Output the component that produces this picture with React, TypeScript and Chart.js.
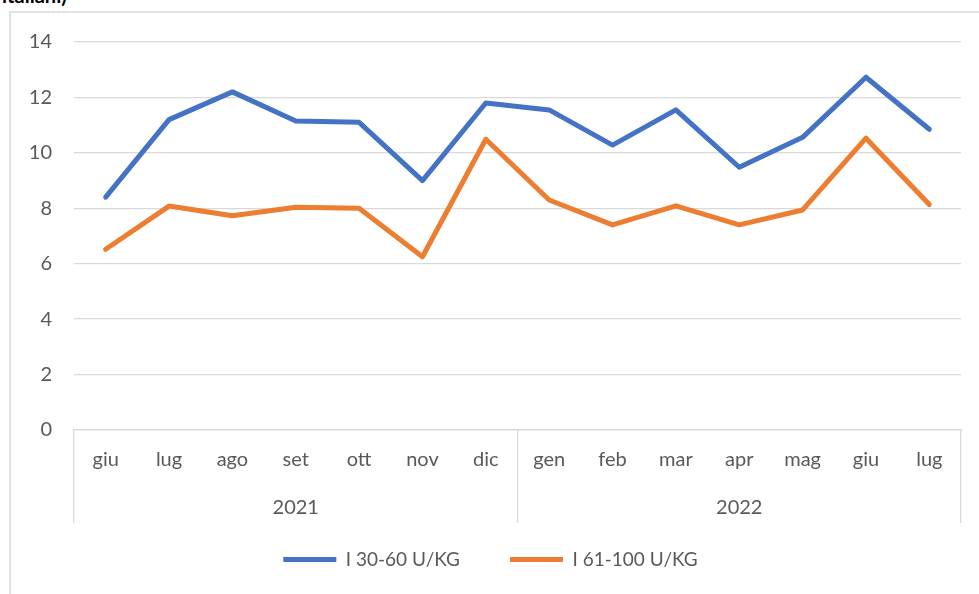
import React, { useEffect, useRef } from 'react';
import { Chart, registerables } from 'chart.js';

Chart.register(...registerables);

const months = ['giu', 'lug', 'ago', 'set', 'ott', 'nov', 'dic', 'gen', 'feb', 'mar', 'apr', 'mag', 'giu', 'lug'];
const years = ['2021', '2022'];
const yearSpans = [7, 7];
const series1Name = 'I 30-60 U/KG';
const series2Name = 'I 61-100 U/KG';
const series1 = [8.4, 11.2, 12.2, 11.15, 11.1, 9.0, 11.8, 11.55, 10.28, 11.55, 9.48, 10.56, 12.73, 10.85];
const series2 = [6.52, 8.08, 7.73, 8.04, 8.0, 6.25, 10.49, 8.3, 7.4, 8.09, 7.4, 7.94, 10.53, 8.14];
const yMin = 0;
const yMax = 14;
const yStep = 2;

const FONT = 'Lato, "Open Sans", sans-serif';
const TEXT = '#595959';
const GRID = '#d9d9d9';

export default function App() {
  const ref = useRef<HTMLCanvasElement | null>(null);

  useEffect(() => {
    document.body.style.margin = '0';
    const canvas = ref.current;
    if (!canvas) return;

    // two-level labels: month + year under the middle month of its group
    const yearAt: string[] = months.map(() => '');
    const boundaries = new Set<number>([0]);
    let start = 0;
    yearSpans.forEach((span, i) => {
      yearAt[start + Math.floor(span / 2)] = years[i];
      start += span;
      boundaries.add(start);
    });
    const labels = months.map((m, i) => [m, yearAt[i]]);

    const chart = new Chart(canvas, {
      type: 'line',
      data: {
        labels,
        datasets: [
          {
            label: series1Name,
            data: series1,
            borderColor: '#4472C4',
            backgroundColor: '#4472C4',
            borderWidth: 5,
            pointRadius: 0,
            tension: 0,
            borderCapStyle: 'round',
            borderJoinStyle: 'round',
          },
          {
            label: series2Name,
            data: series2,
            borderColor: '#ED7D31',
            backgroundColor: '#ED7D31',
            borderWidth: 5,
            pointRadius: 0,
            tension: 0,
            borderCapStyle: 'round',
            borderJoinStyle: 'round',
          },
        ],
      },
      options: {
        animation: false,
        responsive: false,
        maintainAspectRatio: false,
        layout: { padding: { left: 20, right: 18, top: 42, bottom: 15 } },
        plugins: {
          tooltip: { enabled: false },
          legend: {
            position: 'bottom',
            labels: {
              usePointStyle: true,
              pointStyle: 'line',
              pointStyleWidth: 53,
              boxHeight: 5,
              padding: 12,
              color: TEXT,
              font: { family: FONT, size: 19 },
              generateLabels: (c: any) => {
                const items = (Chart as any).defaults.plugins.legend.labels.generateLabels(c);
                if (items.length > 1) items[0].text = items[0].text + '\u2003\u2003\u2002';
                return items;
              },
            },
          },
        },
        scales: {
          x: {
            type: 'category',
            offset: true,
            grid: { display: false, drawTicks: false },
            border: { display: true, color: GRID, width: 1.3 },
            ticks: {
              autoSkip: false,
              maxRotation: 0,
              minRotation: 0,
              padding: 6,
              color: TEXT,
              font: { family: FONT, size: 20, lineHeight: '48px' },
            },
          },
          xSep: {
            type: 'category',
            offset: true,
            position: { y: 0 },
            ticks: { display: false },
            border: { display: false },
            grid: {
              offset: true,
              drawOnChartArea: false,
              drawTicks: true,
              tickLength: 93,
              lineWidth: 1.3,
              color: (ctx: any) => {
                const idx = ctx.index === undefined ? months.length : ctx.index;
                return boundaries.has(idx) ? GRID : 'rgba(0,0,0,0)';
              },
            },
          },
          y: {
            min: yMin,
            max: yMax,
            ticks: {
              stepSize: yStep,
              padding: 22,
              color: TEXT,
              font: { family: FONT, size: 20 },
            },
            grid: { color: GRID, lineWidth: 1.3, drawTicks: false },
            border: { display: false },
            afterFit: (s: any) => {
              s.width = 54;
            },
          },
        },
      },
    } as any);

    return () => chart.destroy();
  }, []);

  return (
    <div style={{ position: 'relative', width: 979, height: 594, overflow: 'hidden', background: '#fff' }}>
      <div
        style={{
          position: 'absolute',
          left: 2,
          top: -17,
          font: `bold 20px ${FONT}`,
          lineHeight: '24px',
          whiteSpace: 'nowrap',
          color: '#000',
        }}
      >
        italiani)
      </div>
      <div
        style={{
          position: 'absolute',
          left: 9,
          top: 11,
          width: 1100,
          height: 800,
          border: '2px solid #e2e2e2',
        }}
      />
      <canvas ref={ref} width={979} height={594} style={{ position: 'absolute', left: 0, top: 0 }} />
    </div>
  );
}
